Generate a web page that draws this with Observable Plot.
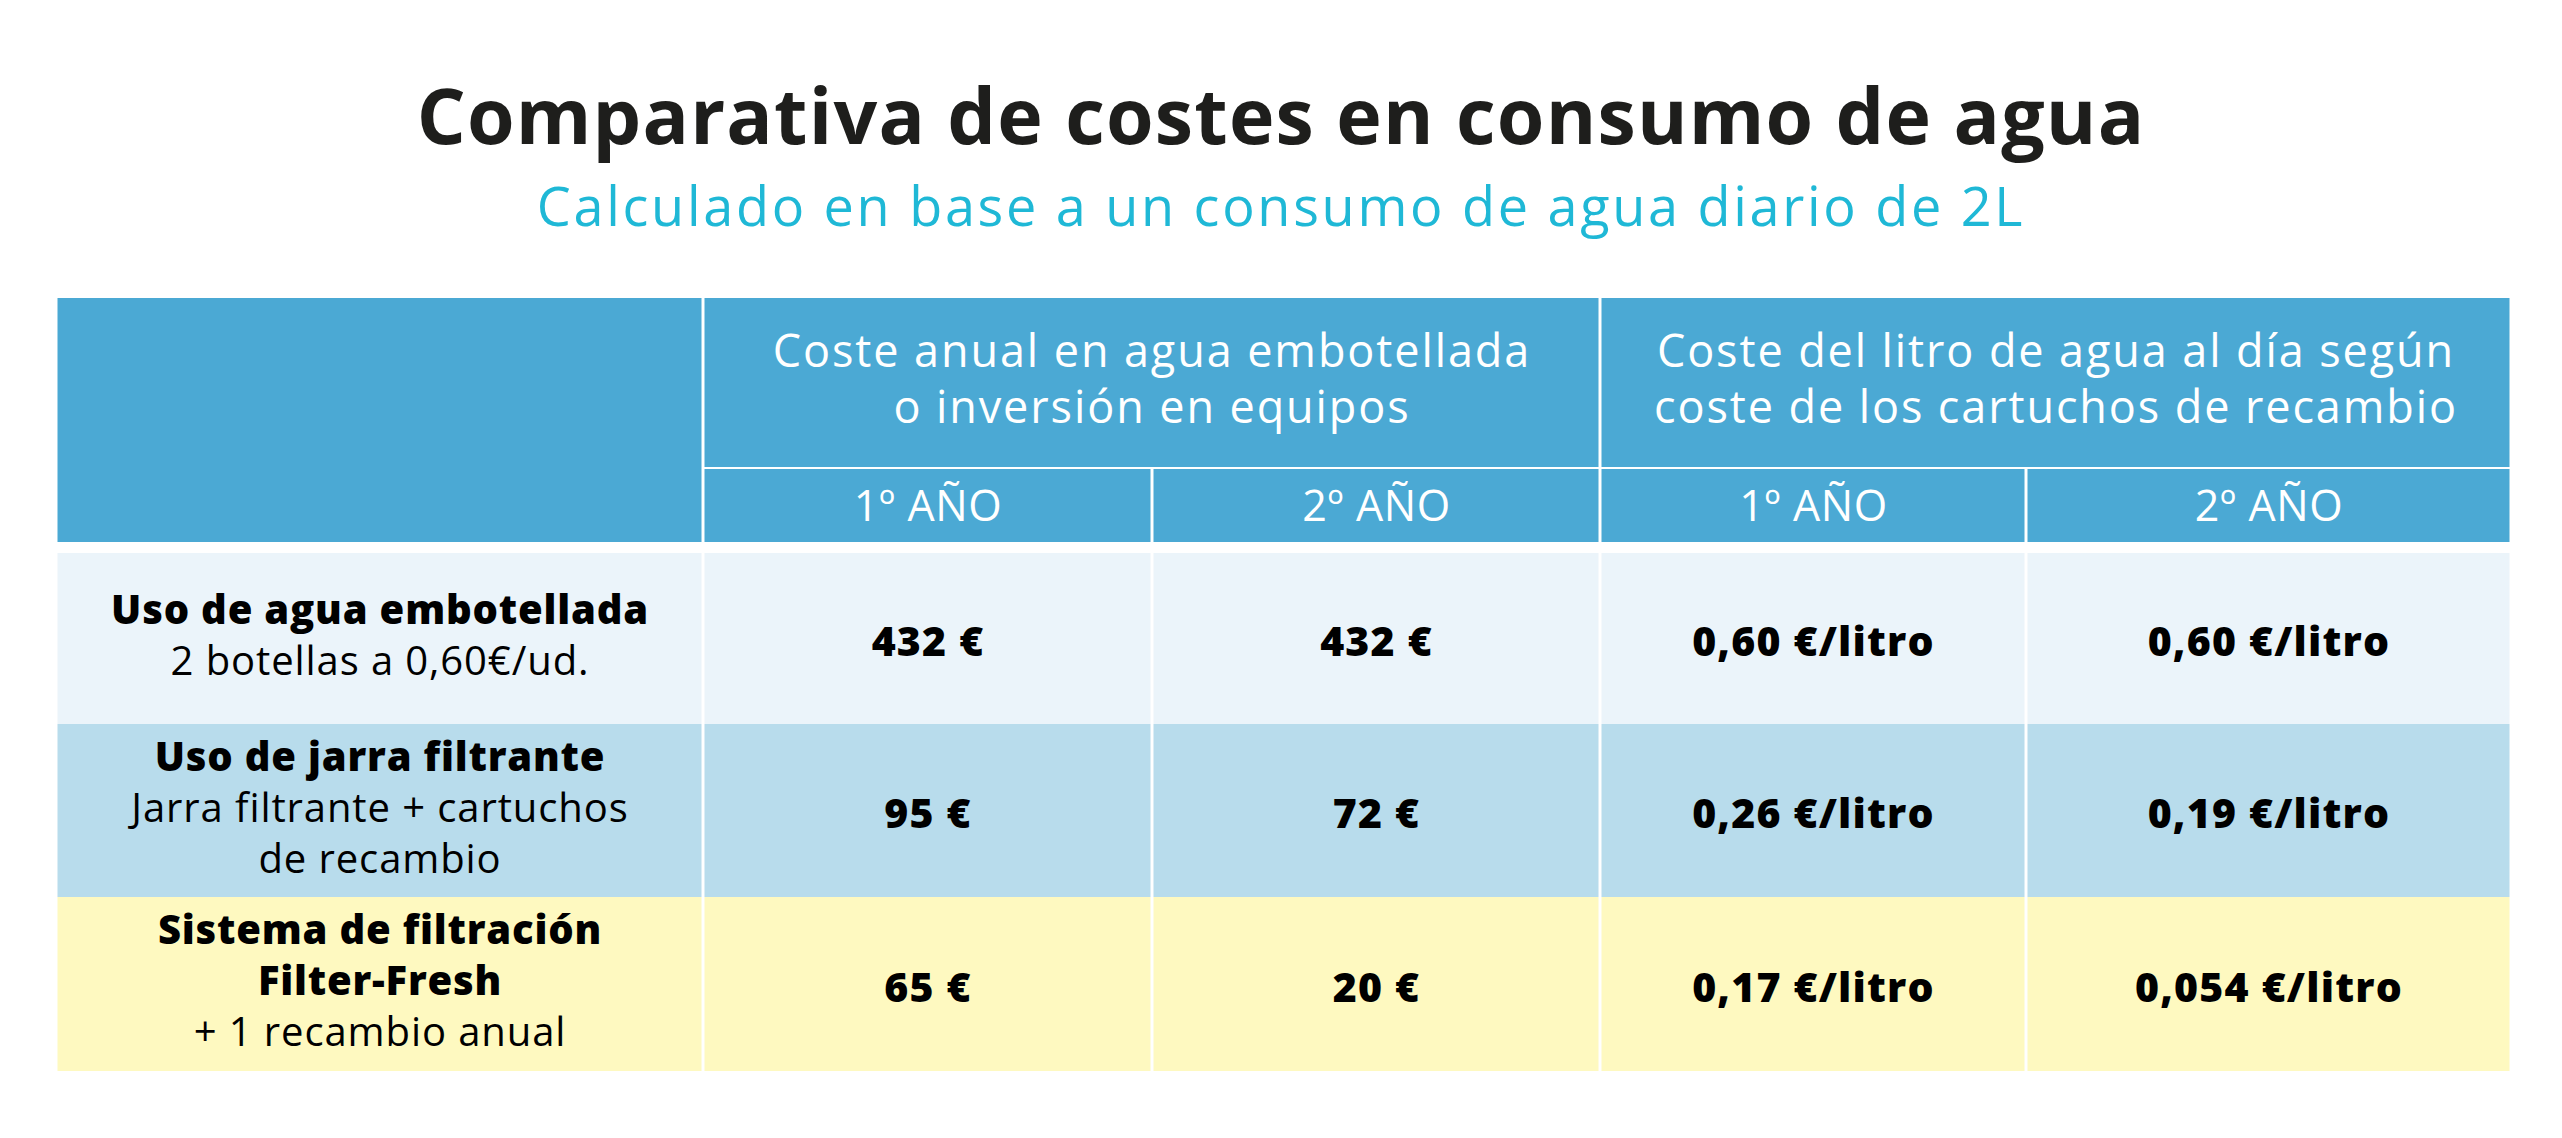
<!DOCTYPE html>
<html>
<head>
<meta charset="utf-8">
<script src="https://cdn.jsdelivr.net/npm/d3@7"></script>
<script src="https://cdn.jsdelivr.net/npm/@observablehq/plot@0.6"></script>
<style>
  html, body { margin: 0; padding: 0; background: #ffffff; }
  body { width: 2562px; height: 1138px; overflow: hidden; font-family: "Open Sans", "Lato", sans-serif; }
  #head { position: relative; width: 2562px; height: 270px; }
  #title { position: absolute; left: 0; width: 2562px; top: 76px; text-align: center;
           font-size: 77px; line-height: 1; font-weight: 700; color: #1e1e1c; white-space: nowrap; letter-spacing: 1.2px; }
  #subtitle { position: absolute; left: 0; width: 2562px; top: 178px; text-align: center;
              font-size: 54px; line-height: 1; font-weight: 400; color: #1fb8d6; white-space: nowrap; letter-spacing: 2.7px; }
  #chart svg { display: block; }
</style>
</head>
<body>
<div id="head">
  <div id="title">Comparativa de costes en consumo de agua</div>
  <div id="subtitle">Calculado en base a un consumo de agua diario de 2L</div>
</div>
<div id="chart"></div>
<script>
// ---- data ----
const groupHeaders = [
  "Coste anual en agua embotellada\no inversión en equipos",
  "Coste del litro de agua al día según\ncoste de los cartuchos de recambio"
];
const yearLabels = ["1º AÑO", "2º AÑO"];
const options = ["Uso de agua embotellada", "Uso de jarra filtrante", "Sistema de filtración\nFilter-Fresh"];
const optionNotes = ["2 botellas a 0,60€/ud.", "Jarra filtrante + cartuchos\nde recambio", "+ 1 recambio anual"];
const annualCostYear1 = [432, 95, 65];
const annualCostYear2 = [432, 72, 20];
const litreCostYear1 = [0.60, 0.26, 0.17];
const litreCostYear2 = [0.60, 0.19, 0.054];

// ---- layout (page pixels) ----
const W = 2562, TOP = 270, H = 1138 - TOP;
const colEdges = [56, 703, 1152, 1600, 2026, 2511];
const headTop = 298, headMid = 467, headBottom = 542;
const rowEdges = [553, 724, 897, 1071];
const rowFills = ["#ebf4fa", "#b8dcec", "#fef9c0"];
const headFill = "#4ba9d4";
const gap = 1.5;

const fmtEur = v => `${v} €`;
const fmtLitre = v => `${v.toLocaleString("es-ES", {minimumFractionDigits: 2, maximumFractionDigits: 3})} €/litro`;

// header cells
const headCells = [
  {x1: colEdges[0], x2: colEdges[1], y1: headTop, y2: headBottom},
  {x1: colEdges[1], x2: colEdges[3], y1: headTop, y2: headMid},
  {x1: colEdges[3], x2: colEdges[5], y1: headTop, y2: headMid},
  ...[1, 2, 3, 4].map(c => ({x1: colEdges[c], x2: colEdges[c + 1], y1: headMid + 2, y2: headBottom}))
];

// group header text lines
const groupLines = groupHeaders.flatMap((g, gi) => {
  const lines = g.split("\n");
  const cx = (colEdges[1 + gi * 2] + colEdges[3 + gi * 2]) / 2;
  const cy = (headTop + headMid) / 2 - 2;
  return lines.map((t, i) => ({text: t, x: cx, y: cy + (i - (lines.length - 1) / 2) * 56}));
});
const yearCells = [0, 1, 2, 3].map(c => ({
  text: yearLabels[c % 2],
  x: (colEdges[c + 1] + colEdges[c + 2]) / 2,
  y: (headMid + headBottom) / 2 + 2
}));

// body cells
const bodyCells = options.flatMap((o, r) =>
  [0, 1, 2, 3, 4].map(c => ({x1: colEdges[c], x2: colEdges[c + 1], y1: rowEdges[r], y2: rowEdges[r + 1], fill: rowFills[r]}))
);

// row label lines
const labelLines = options.flatMap((o, r) => {
  const bold = o.split("\n").map(t => ({text: t, bold: true}));
  const note = optionNotes[r].split("\n").map(t => ({text: t, bold: false}));
  const all = [...bold, ...note];
  const cy = (rowEdges[r] + rowEdges[r + 1]) / 2 - 2;
  const L = 51;
  return all.map((d, i) => ({...d, x: (colEdges[0] + colEdges[1]) / 2, y: cy + (i - (all.length - 1) / 2) * L}));
});

const valueCells = options.flatMap((o, r) => {
  const cy = (rowEdges[r] + rowEdges[r + 1]) / 2 + 4;
  const vals = [fmtEur(annualCostYear1[r]), fmtEur(annualCostYear2[r]), fmtLitre(litreCostYear1[r]), fmtLitre(litreCostYear2[r])];
  return vals.map((v, c) => ({text: v, x: (colEdges[c + 1] + colEdges[c + 2]) / 2, y: cy}));
});

const chart = Plot.plot({
  width: W,
  height: H,
  margin: 0,
  x: {domain: [0, W], range: [0, W], axis: null},
  y: {domain: [TOP, TOP + H], range: [0, H], axis: null},
  style: {fontFamily: "'Open Sans', Lato, sans-serif", background: "#ffffff"},
  marks: [
    Plot.rect(headCells, {x1: "x1", x2: "x2", y1: "y1", y2: "y2", fill: headFill, insetLeft: gap, insetRight: gap}),
    Plot.rect(bodyCells, {x1: "x1", x2: "x2", y1: "y1", y2: "y2", fill: "fill", insetLeft: gap, insetRight: gap}),
    Plot.text(groupLines, {x: "x", y: "y", text: "text", fill: "white", fontSize: 45, fontWeight: 400, lineAnchor: "middle"}),
    Plot.text(yearCells, {x: "x", y: "y", text: "text", fill: "white", fontSize: 43, fontWeight: 400, lineAnchor: "middle"}),
    Plot.text(labelLines.filter(d => d.bold), {x: "x", y: "y", text: "text", fill: "#000000", fontSize: 40, fontWeight: 800, lineAnchor: "middle"}),
    Plot.text(labelLines.filter(d => !d.bold), {x: "x", y: "y", text: "text", fill: "#000000", fontSize: 40, fontWeight: 400, lineAnchor: "middle"}),
    Plot.text(valueCells, {x: "x", y: "y", text: "text", fill: "#000000", fontSize: 41, fontWeight: 800, lineAnchor: "middle"})
  ]
});
// widen letter spacing to approximate the wide geometric typeface of the original
const textGroups = chart.querySelectorAll('g[aria-label="text"]');
const spacing = [1.9, 0.6, 0.8, 0.9, 1.2];
textGroups.forEach((g, i) => g.setAttribute("letter-spacing", spacing[i] ?? 0));
document.getElementById("chart").appendChild(chart);
</script>
</body>
</html>
